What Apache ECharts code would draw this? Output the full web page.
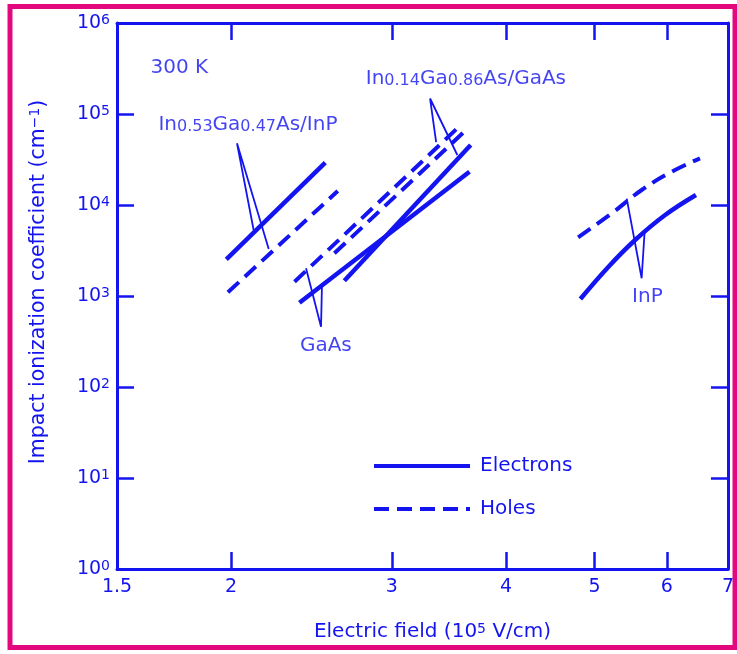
<!DOCTYPE html>
<html>
<head>
<meta charset="utf-8">
<script src="https://cdn.jsdelivr.net/npm/echarts@6/dist/echarts.min.js"></script>
<style>
html, body { margin: 0; padding: 0; background: #fff; }
#chart { width: 737px; height: 654px; }
</style>
</head>
<body>
<div id="chart"></div>
<script>
// axis ticks
var fieldTicks = [2, 3, 4, 5, 6];
var fieldLabels = [1.5, 2, 3, 4, 5, 6, 7];

// In0.53Ga0.47As / InP
var ingaas53ElecField = [1.976, 2.536];
var ingaas53ElecAlpha = [2530, 29170];
var ingaas53HoleField = [1.984, 2.617];
var ingaas53HoleAlpha = [1098, 14250];

// GaAs
var gaasElecField = [2.376, 3.648];
var gaasElecAlpha = [844, 23230];
var gaasHoleField = [2.347, 3.552];
var gaasHoleAlpha = [1436, 72470];

// In0.14Ga0.86As / GaAs
var ingaas14ElecField = [2.661, 3.659];
var ingaas14ElecAlpha = [1473, 45630];
var ingaas14HoleField = [2.595, 3.591];
var ingaas14HoleAlpha = [2945, 62350];

// InP
var inpElecField = [4.825, 5.180, 5.539, 5.975, 6.457];
var inpElecAlpha = [927, 2099, 4124, 7766, 12880];
var inpHoleField = [4.798, 5.223, 5.631, 6.075, 6.523];
var inpHoleAlpha = [4416, 8110, 14620, 23230, 32600];

// leader lines: branch end, apex, branch end
var leaderField = [
    [2.117, 2.030, 2.199],
    [2.416, 2.509, 2.515],
    [3.354, 3.303, 3.538],
    [5.423, 5.631, 5.672]
];
var leaderAlpha = [
    [5313, 47640, 3284],
    [2015, 460, 1321],
    [49220, 148000, 35430],
    [11730, 1566, 4886]
];

// text annotations (left edge, middle)
var noteText = [
    '300 K',
    'In{s|0.53}Ga{s|0.47}As/InP',
    'In{s|0.14}Ga{s|0.86}As/GaAs',
    'GaAs',
    'InP'
];
var noteField = [1.630, 1.663, 2.805, 2.376, 5.490];
var noteAlpha = [320000, 75700, 242500, 282, 975];

var blue = '#1414f0';
var font = 'DejaVu Sans';
var dash = [15, 8];

function pts(xs, ys) {
    return xs.map(function (x, i) { return [Math.log10(x), ys[i]]; });
}

function curve(name, xs, ys, dashed, smooth) {
    return {
        name: name,
        type: 'line',
        data: pts(xs, ys),
        symbol: 'none',
        smooth: smooth ? 0.4 : false,
        silent: true,
        lineStyle: { color: blue, width: dashed ? 4 : 4.5, type: dashed ? dash : 'solid' },
        itemStyle: { color: blue }
    };
}

var series = [
    curve('Electrons', ingaas53ElecField, ingaas53ElecAlpha, false),
    curve('Holes', ingaas53HoleField, ingaas53HoleAlpha, true),
    curve('Electrons', gaasElecField, gaasElecAlpha, false),
    curve('Holes', gaasHoleField, gaasHoleAlpha, true),
    curve('Electrons', ingaas14ElecField, ingaas14ElecAlpha, false),
    curve('Holes', ingaas14HoleField, ingaas14HoleAlpha, true),
    curve('Electrons', inpElecField, inpElecAlpha, false, true),
    curve('Holes', inpHoleField, inpHoleAlpha, true, true)
];

leaderField.forEach(function (xs, i) {
    series.push({
        name: 'leader' + i,
        type: 'line',
        data: pts(xs, leaderAlpha[i]),
        symbol: 'none',
        silent: true,
        lineStyle: { color: blue, width: 1.8 }
    });
});

series.push({
    name: 'notes',
    type: 'scatter',
    symbolSize: 1,
    silent: true,
    itemStyle: { color: 'rgba(0,0,0,0)' },
    data: noteField.map(function (x, i) {
        return { value: [Math.log10(x), noteAlpha[i]], label: { formatter: noteText[i] } };
    }),
    label: {
        show: true,
        position: 'right',
        distance: 0,
        color: blue,
        fontFamily: font,
        fontSize: 20,
        rich: {
            s: { fontSize: 16, color: blue, fontFamily: font, verticalAlign: 'bottom', lineHeight: 16 }
        }
    }
});

var richSup = { s: { fontSize: 14, color: blue, fontFamily: font, verticalAlign: 'top', lineHeight: 14 } };
var axisLineStyle = { color: blue, width: 3 };
var tickStyle = { color: blue, width: 2.5 };

var xLog = {
    type: 'value',
    min: Math.log10(1.5),
    max: Math.log10(7),
    splitLine: { show: false },
    axisLine: { lineStyle: axisLineStyle },
    axisTick: { inside: true, length: 17, lineStyle: tickStyle, customValues: fieldTicks.map(Math.log10) }
};

var yLog = {
    type: 'log',
    logBase: 10,
    min: 1,
    max: 1e6,
    splitLine: { show: false },
    axisLine: { lineStyle: axisLineStyle },
    axisTick: { inside: true, length: 17, lineStyle: tickStyle }
};

var chart = echarts.init(document.getElementById('chart'));
chart.setOption({
    animation: false,
    grid: { left: 117, right: 7, top: 23, bottom: 85 },
    textStyle: { fontFamily: font },
    legend: {
        data: ['Electrons', 'Holes'],
        orient: 'vertical',
        left: 372,
        top: 456,
        padding: 0,
        itemWidth: 96,
        itemHeight: 20,
        itemGap: 23,
        selectedMode: false,
        itemStyle: { opacity: 0 },
        lineStyle: { width: 4 },
        textStyle: { color: blue, fontFamily: font, fontSize: 20, padding: [0, 0, 0, 5] }
    },
    xAxis: [
        Object.assign({}, xLog, {
            position: 'bottom',
            name: 'Electric field (10{s|5} V/cm)',
            nameLocation: 'middle',
            nameGap: 53,
            nameTextStyle: { color: blue, fontFamily: font, fontSize: 20, padding: [0, 0, 0, 20], rich: richSup },
            axisLabel: {
                customValues: fieldLabels.map(Math.log10),
                margin: 9,
                color: blue,
                fontFamily: font,
                fontSize: 19,
                formatter: function (v) { return String(Math.round(Math.pow(10, v) * 10) / 10); }
            }
        }),
        Object.assign({}, xLog, { position: 'top', axisLabel: { show: false } })
    ],
    yAxis: [
        Object.assign({}, yLog, {
            position: 'left',
            name: 'Impact ionization coefficient (cm{s|\u22121})',
            nameLocation: 'middle',
            nameGap: 68,
            nameTextStyle: { color: blue, fontFamily: font, fontSize: 20.5, padding: [0, 0, 0, 28], rich: richSup },
            axisLabel: {
                margin: 7,
                color: blue,
                fontFamily: font,
                fontSize: 19,
                formatter: function (v) { return '10{s|' + Math.round(Math.log10(v)) + '}'; },
                rich: richSup
            }
        }),
        Object.assign({}, yLog, { position: 'right', axisLabel: { show: false } })
    ],
    graphic: [{
        type: 'rect',
        silent: true,
        shape: { x: 10, y: 6.5, width: 725, height: 641 },
        style: { fill: 'none', stroke: '#e4087f', lineWidth: 5 }
    }],
    series: series
});
</script>
</body>
</html>
